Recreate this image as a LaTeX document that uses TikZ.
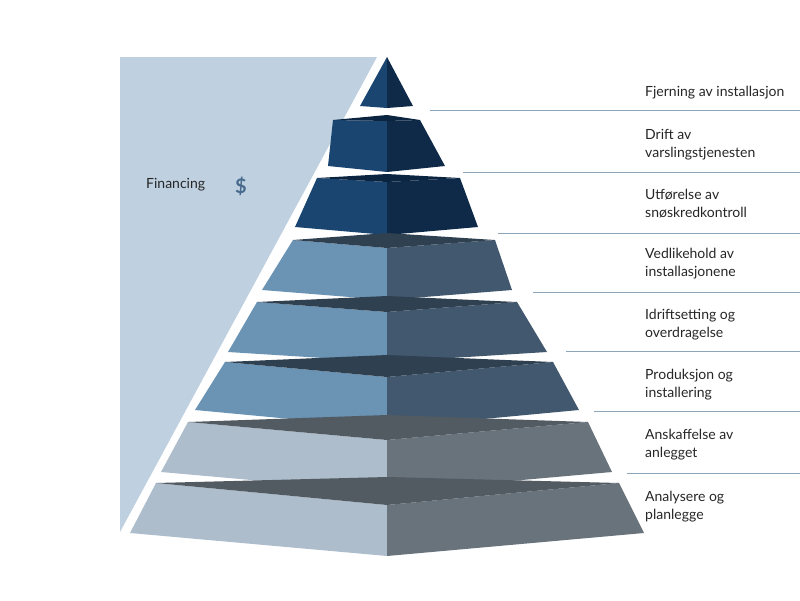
\documentclass[tikz,border=0pt]{standalone}
\usepackage{fontspec}
\setmainfont{Lato}
\begin{document}
\begin{tikzpicture}[x=1pt,y=-1pt,
  lab/.style={anchor=west,align=left,font=\fontsize{14}{18}\selectfont,text=black!85,inner sep=0pt},
  sep/.style={draw=black!20!blue!20!gray!70,line width=0.8pt}]
\definecolor{dL}{HTML}{1A4570}\definecolor{dR}{HTML}{0E2A48}\definecolor{dT}{HTML}{0B2440}
\definecolor{mL}{HTML}{6A93B4}\definecolor{mR}{HTML}{41586E}\definecolor{mT}{HTML}{2F4050}
\definecolor{lL}{HTML}{ADBDCC}\definecolor{lR}{HTML}{68737C}\definecolor{lT}{HTML}{525A62}
\definecolor{panel}{HTML}{BFD0E0}\definecolor{line}{HTML}{8FA5B8}
\useasboundingbox (0,0) rectangle (800,600);
\fill[panel] (120,57) -- (377,57) -- (120,532) -- cycle;
\newcommand{\pyrlayer}[9]{%
  \def\cx{387}%
  \fill[#7L] (#1,#3) -- (\cx,#5) -- (\cx,#9) -- (#6,#8) -- cycle;
  \fill[#7R] (\cx,#5) -- (#2,#3) -- (#7,#8) -- (\cx,#9) -- cycle;
  \fill[#7T] (#1,#3) -- (\cx,#4) -- (#2,#3) -- (\cx,#5) -- cycle;}
% apex
\fill[dL] (387,57) -- (387,108) -- (360,106) -- cycle;
\fill[dR] (387,57) -- (413,106) -- (387,108) -- cycle;
\def\lay#1#2#3#4#5#6#7#8#9{\layerB{#1}{#2}{#3}{#4}{#5}{#6}{#7}{#8}{#9}}
\newcommand{\layerB}[9]{\def\xa{#1}\def\xb{#2}\def\ya{#3}\def\yb{#4}\def\yc{#5}\def\xc{#6}\def\xd{#7}\def\yd{#8}\def\ye{#9}\layerC}
\newcommand{\layerC}[1]{%
  \fill[#1L] (\xa,\ya) -- (387,\yc) -- (387,\ye) -- (\xc,\yd) -- cycle;
  \fill[#1R] (387,\yc) -- (\xb,\ya) -- (\xd,\yd) -- (387,\ye) -- cycle;
  \fill[#1T] (\xa,\ya) -- (387,\yb) -- (\xb,\ya) -- (387,\yc) -- cycle;}
\layerB{333}{420}{120}{115}{121}{328}{445}{166}{172}{d}
\layerB{317}{460}{178}{174}{182}{295}{478}{227}{235}{d}
\layerB{293}{495}{240}{233}{248}{262}{512}{290}{300}{m}
\layerB{257}{517}{302}{296}{312}{228}{547}{352}{362}{m}
\layerB{225}{553}{362}{355}{377}{195}{579}{410}{428}{m}
\layerB{188}{588}{422}{415}{440}{161}{612}{472}{492}{l}
\layerB{156}{619}{483}{477}{505}{130}{644}{533}{556}{l}
% separator lines
\foreach \xs/\ys in {430/110,463/172,498/233,533/292,566/351,594/411,627/473}
  \draw[line,line width=0.8pt] (\xs,\ys) -- (800,\ys);
\node[lab] (t1) at (645,93) {Fjerning av installasjon};
\node[lab] (t2) at (645,145) {Drift av\\varslingstjenesten};
\node[lab] (t3) at (645,204) {Utførelse av\\snøskredkontroll};
\node[lab] (t4) at (645,264) {Vedlikehold av\\installasjonene};
\node[lab] (t5) at (645,325) {Idriftsetting og\\overdragelse};
\node[lab] (t6) at (645,385) {Produksjon og\\installering};
\node[lab] (t7) at (645,445) {Anskaffelse av\\anlegget};
\node[lab] (t8) at (645,507) {Analysere og\\planlegge};
\node[lab] (fin) at (146,185) {Financing};
\node[anchor=center,font=\fontsize{20}{20}\selectfont\bfseries,text=dL!80!white] (dol) at (241,186) {\$};
\end{tikzpicture}
\end{document}
